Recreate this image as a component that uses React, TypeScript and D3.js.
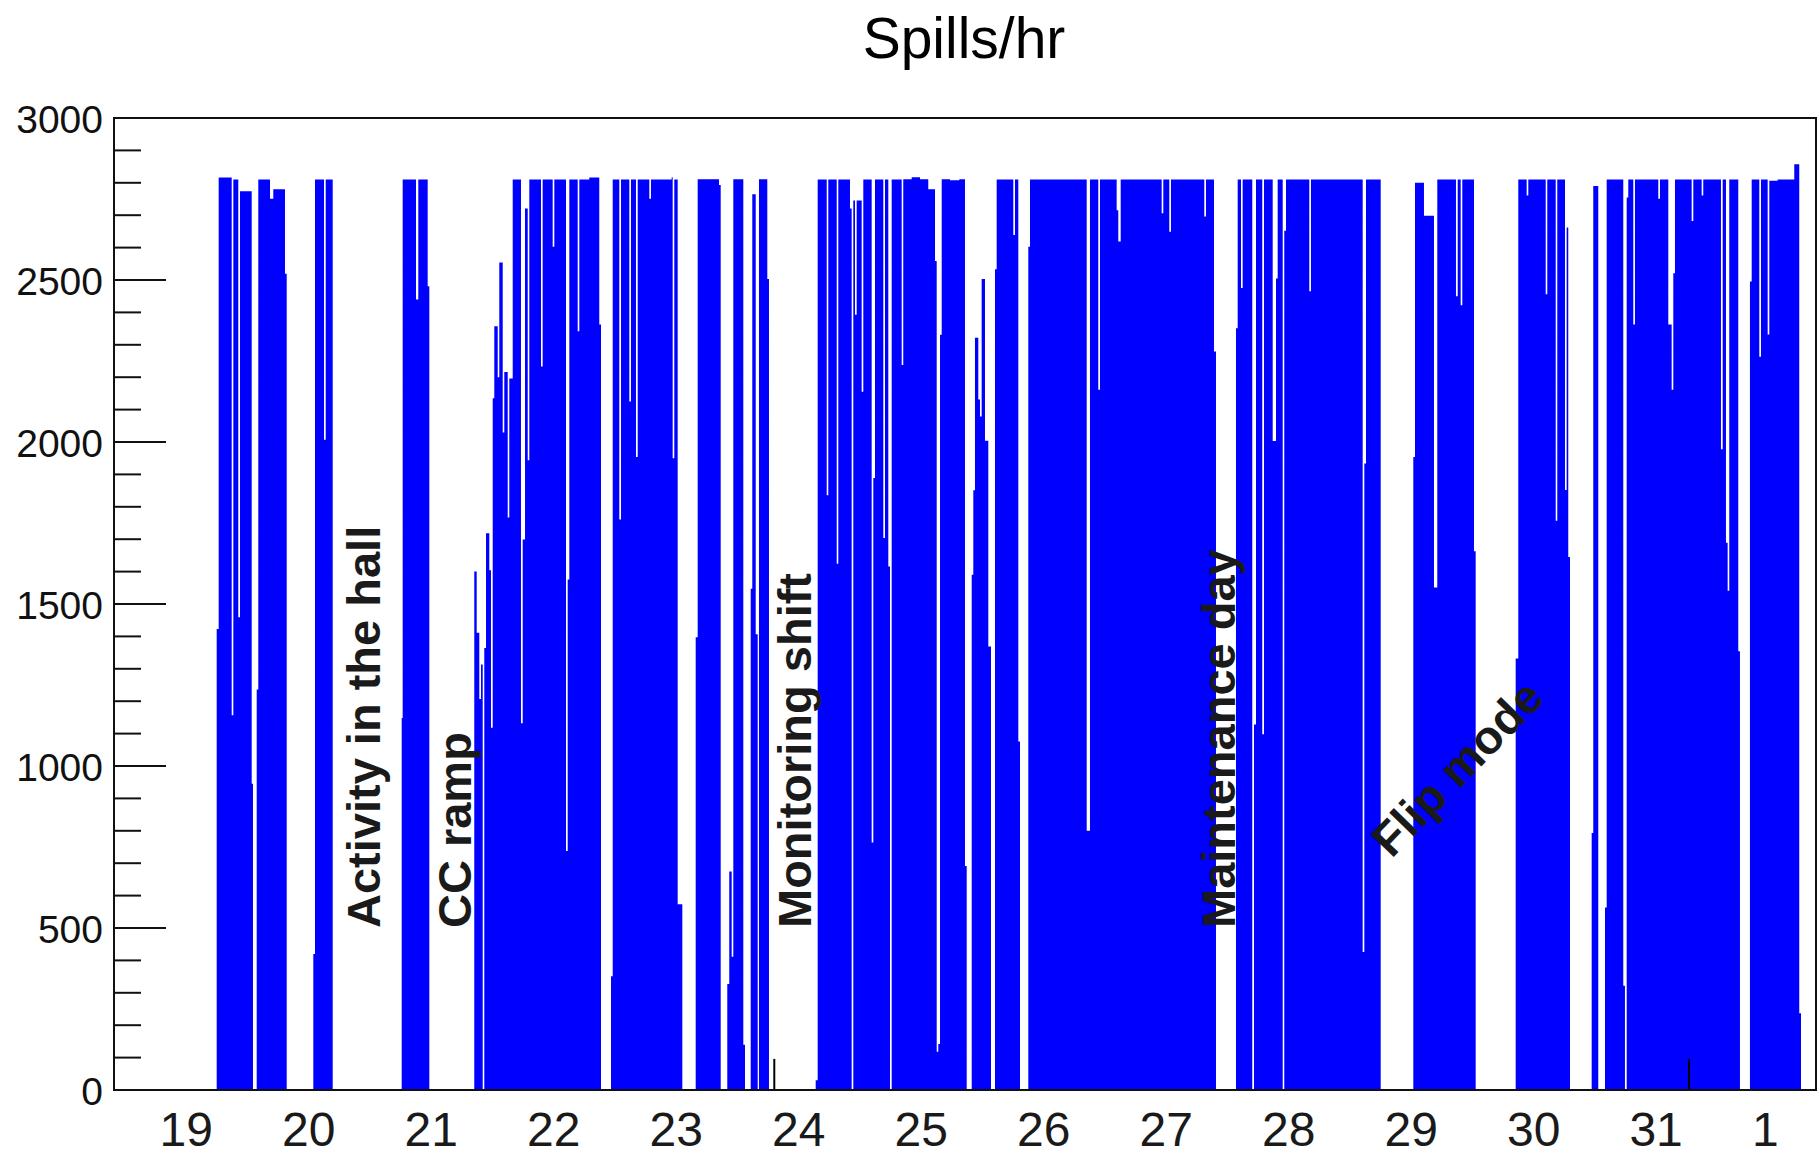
import React from 'react';
import * as d3 from 'd3';

// Spill rate histogram: bin start times (hours after 19 Oct 00:00) and rate in each bin.
const binStartHour = [
  -8.72, 11.40, 11.79, 14.34, 14.66, 15.63, 15.97, 18.26, 18.51, 19.24,
  19.55, 21.85, 22.49, 24.78, 25.12, 30.33, 30.66, 32.43, 32.76, 34.13,
  47.65, 47.84, 50.45, 50.90, 52.74, 53.06, 61.87, 62.34, 62.85, 63.19,
  63.52, 63.83, 64.17, 64.81, 65.14, 65.48, 65.79, 66.46, 66.77, 67.44,
  67.75, 68.42, 68.73, 69.40, 71.02, 71.36, 71.81, 72.34, 72.65, 74.94,
  75.27, 77.23, 77.55, 79.84, 80.17, 80.49, 82.13, 82.45, 84.40, 86.36,
  86.70, 88.66, 88.99, 90.28, 90.62, 92.24, 92.57, 93.55, 93.89, 96.16,
  96.49, 100.55, 100.74, 101.06, 101.72, 102.63, 105.25, 105.64, 109.82, 110.15,
  111.44, 111.83, 112.30, 112.62, 114.58, 114.91, 116.03, 116.34, 117.01, 117.40,
  117.65, 119.28, 119.61, 128.76, 129.15, 130.92, 131.23, 132.88, 133.19, 135.48,
  135.81, 136.13, 136.46, 136.79, 137.77, 138.09, 139.73, 140.05, 140.38, 142.01,
  142.34, 142.99, 143.32, 143.65, 145.61, 145.92, 147.57, 149.20, 150.82, 152.14,
  152.47, 152.78, 153.12, 153.45, 155.07, 156.90, 158.01, 158.35, 159.33, 159.64,
  159.97, 160.62, 160.95, 161.28, 161.93, 162.58, 163.11, 163.89, 164.22, 167.48,
  167.81, 168.46, 168.79, 170.42, 170.75, 181.86, 182.50, 184.13, 184.46, 187.73,
  188.05, 188.52, 196.55, 196.87, 198.04, 198.37, 204.90, 205.23, 206.80, 207.19,
  211.11, 211.44, 212.09, 212.42, 214.30, 214.64, 215.03, 216.26, 216.60, 218.30,
  218.95, 219.28, 220.26, 220.57, 220.91, 225.47, 225.80, 235.93, 236.25, 236.58,
  239.46, 245.85, 246.18, 247.94, 249.90, 250.55, 254.21, 254.55, 255.13, 255.45,
  257.74, 258.07, 265.91, 266.42, 268.06, 268.38, 271.79, 272.10, 273.75, 274.06,
  275.57, 275.90, 276.21, 276.55, 280.80, 281.11, 282.09, 283.41, 283.74, 286.99,
  287.32, 287.66, 287.97, 288.95, 289.28, 293.85, 294.18, 295.81, 296.47, 296.79,
  297.12, 300.39, 300.71, 302.35, 302.66, 306.13, 306.47, 307.11, 307.44, 307.76,
  309.52, 309.85, 311.81, 312.15, 313.64, 313.97, 315.28, 315.60, 317.24, 320.49,
  321.47, 321.81,
];

const spillsPerHour = [
  0, 1423, 2816, 1157, 2810, 1459, 2774, 945, 0, 1236,
  2810, 2751, 2780, 2519, 0, 420, 2810, 2007, 2810, 0,
  1148, 2810, 2440, 2810, 2481, 0, 1600, 1411, 1207, 1313,
  0, 1364, 1718, 1604, 1118, 2135, 2357, 2200, 2554, 2029,
  2216, 1767, 2196, 2810, 1132, 1699, 2721, 1944, 2810, 2233,
  2810, 2603, 2810, 738, 1576, 2810, 2342, 2810, 2816, 2363,
  0, 351, 2810, 1761, 2810, 2125, 2810, 1954, 2810, 2751,
  2810, 2817, 1950, 2810, 573, 0, 1397, 2811, 2793, 0,
  327, 674, 411, 2811, 140, 0, 1547, 2765, 1407, 0,
  2811, 2503, 0, 30, 2810, 1836, 2810, 1624, 2810, 2721,
  0, 2745, 2393, 2745, 2155, 2810, 764, 1889, 2810, 1704,
  2810, 1616, 0, 2810, 2238, 2811, 2817, 2811, 2780, 2559,
  118, 142, 2331, 2811, 2808, 2811, 691, 0, 1590, 1851,
  2322, 2131, 2079, 2503, 2004, 1369, 0, 2533, 2810, 2639,
  2810, 1076, 0, 2603, 2810, 800, 2810, 2161, 2810, 2715,
  2619, 2810, 2706, 2810, 2649, 2810, 2696, 2810, 2279, 0,
  2351, 2810, 2475, 2810, 0, 1128, 2810, 1098, 2810, 2003,
  2505, 2810, 0, 2652, 2810, 2465, 2810, 426, 1934, 2810,
  0, 1954, 2800, 2698, 1551, 2810, 2450, 2810, 2422, 2810,
  1663, 0, 1332, 2810, 2761, 2810, 2456, 2810, 1757, 2810,
  1852, 2662, 1645, 0, 793, 2790, 0, 563, 2810, 322,
  0, 2755, 2810, 2363, 2810, 2751, 2810, 2363, 2161, 2521,
  2810, 2682, 2810, 2761, 2810, 1978, 2810, 1689, 1541, 2810,
  1354, 0, 2495, 2810, 2263, 2810, 2332, 2806, 2810, 2857,
  237, 0,
];

const lastBinEnd = 324.75;

// Day boundaries on the time axis (hours after 19 Oct 00:00) and their labels.
const dayStartHour = [0, 24, 48, 72, 96, 120, 144, 168, 192, 216, 240, 264, 288, 312];
const dayLabels = ['19', '20', '21', '22', '23', '24', '25', '26', '27', '28', '29', '30', '31', '1'];

const yMajorTicks = [0, 500, 1000, 1500, 2000, 2500, 3000];

// Short vertical markers standing on the time axis.
const markerHour = [120.65, 299.86];
const markerValue = [96, 96];

// Run-period annotations, anchored in data coordinates.
const noteText = ['Activity in the hall', 'CC ramp', 'Monitoring shift', 'Maintenance day', 'Flip mode'];
const noteHour = [43.3, 61.13, 127.84, 210.82, 241.6];
const noteValue = [500, 500, 500, 500, 712];
const noteAngle = [-90, -90, -90, -90, -46];

const W = 1820;
const H = 1151;
const frame = { left: 114, right: 1816, top: 118, bottom: 1090 };

export default function App() {
  const x = d3.scaleLinear().domain([binStartHour[0], lastBinEnd]).range([frame.left, frame.right]);
  const y = d3.scaleLinear().domain([0, 3000]).range([frame.bottom, frame.top]);

  const points: [number, number][] = binStartHour.map((h, i) => [h, spillsPerHour[i]] as [number, number]);
  points.push([lastBinEnd, 0]);

  const area = d3
    .area<[number, number]>()
    .x((d) => x(d[0]))
    .y0(y(0))
    .y1((d) => y(d[1]))
    .curve(d3.curveStepAfter);

  const minorTicks = y.ticks(30).filter((t) => t % 500 !== 0);
  const font = '"Liberation Sans", Arial, Helvetica, sans-serif';

  return (
    <svg
      width={W}
      height={H}
      viewBox={`0 0 ${W} ${H}`}
      style={{ position: 'absolute', left: 0, top: 0, display: 'block', background: '#fff' }}
    >
      <rect x={0} y={0} width={W} height={H} fill="#fff" />

      <text x={964} y={57.5} fontFamily={font} fontSize={57} textAnchor="middle" fill="#000">
        Spills/hr
      </text>

      <path d={area(points) || ''} fill="#0000ff" stroke="none" />

      {markerHour.map((h, i) => (
        <line
          key={`m${i}`}
          x1={x(h)}
          x2={x(h)}
          y1={y(0)}
          y2={y(markerValue[i])}
          stroke="#000"
          strokeWidth={2}
        />
      ))}

      {noteText.map((t, i) => {
        const px = x(noteHour[i]);
        const py = y(noteValue[i]);
        return (
          <text
            key={`n${i}`}
            x={0}
            y={0}
            transform={`translate(${px},${py}) rotate(${noteAngle[i]})`}
            fontFamily={font}
            fontWeight="bold"
            fontSize={47}
            fill="#1a1a1a"
          >
            {t}
          </text>
        );
      })}

      {/* y axis ticks, drawn inward from the frame */}
      {yMajorTicks.map((t) => (
        <line key={`M${t}`} x1={frame.left} x2={frame.left + 52} y1={y(t)} y2={y(t)} stroke="#111" strokeWidth={2} />
      ))}
      {minorTicks.map((t) => (
        <line key={`m${t}`} x1={frame.left} x2={frame.left + 27} y1={y(t)} y2={y(t)} stroke="#111" strokeWidth={2} />
      ))}

      <rect
        x={frame.left}
        y={frame.top}
        width={frame.right - frame.left}
        height={frame.bottom - frame.top}
        fill="none"
        stroke="#111"
        strokeWidth={2}
      />

      {yMajorTicks.map((t) => (
        <text
          key={`yl${t}`}
          x={103}
          y={y(t) + 15}
          fontFamily={font}
          fontSize={39}
          textAnchor="end"
          fill="#111"
        >
          {t}
        </text>
      ))}

      {dayStartHour.map((h, i) => (
        <text key={`d${i}`} x={x(h) + 1} y={1146} fontFamily={font} fontSize={48} fill="#1a1a1a">
          {dayLabels[i]}
        </text>
      ))}
    </svg>
  );
}
